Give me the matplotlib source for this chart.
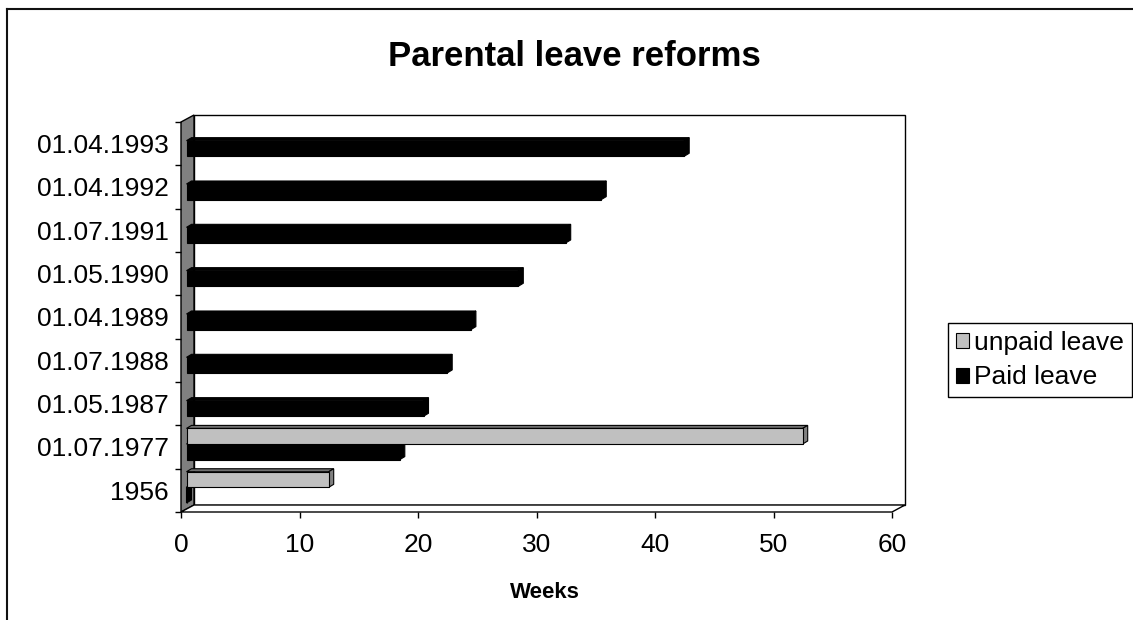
import matplotlib.pyplot as plt
import numpy as np
from matplotlib.patches import Polygon, Patch
from matplotlib.transforms import IdentityTransform
from matplotlib.lines import Line2D

plt.rcParams['font.family'] = ['Liberation Sans', 'DejaVu Sans']

# data, bottom category first
categories = ['1956', '01.07.1977', '01.05.1987', '01.07.1988', '01.04.1989',
              '01.05.1990', '01.07.1991', '01.04.1992', '01.04.1993']
paid_leave = [0, 18, 20, 22, 24, 28, 32, 35, 42]
unpaid_leave = [12, 52, None, None, None, None, None, None, None]
x_ticks = [0, 10, 20, 30, 40, 50, 60]

W, H = 1133, 620
fig = plt.figure(figsize=(W / 100, H / 100), dpi=100)
fig.patch.set_facecolor('white')
ax = fig.add_axes([181 / W, 108 / H, 711 / W, 390 / H])
ax.set_xlim(0, 60)
ax.set_ylim(-0.5, len(categories) - 0.5)
ax.patch.set_visible(False)
for s in ax.spines.values():
    s.set_visible(False)

# depth offsets in pixels
wall_d = (13, 7)
bar_off = (5.5, 3)
bar_d = (5, 3)


def px(x, y, dx=0, dy=0):
    X, Y = ax.transData.transform((x, y))
    return (X + dx, Y + dy)


def face(pts, fc, ec='black', lw=0.8, z=2):
    ax.add_patch(Polygon(pts, closed=True, transform=IdentityTransform(),
                         facecolor=fc, edgecolor=ec, linewidth=lw, zorder=z,
                         clip_on=False))


def shift(p, d):
    return (p[0] + d[0], p[1] + d[1])


ymin, ymax = ax.get_ylim()
xmax = ax.get_xlim()[1]

# back wall
face([px(0, ymin, *wall_d), px(xmax, ymin, *wall_d),
      px(xmax, ymax, *wall_d), px(0, ymax, *wall_d)], 'white', lw=1, z=1)
# left side wall
face([px(0, ymin), px(0, ymin, *wall_d), px(0, ymax, *wall_d), px(0, ymax)],
     '#808080', lw=1, z=1)
# floor
face([px(0, ymin), px(xmax, ymin), px(xmax, ymin, *wall_d), px(0, ymin, *wall_d)],
     'white', lw=1, z=1)


def bar3d(y0, h, v, front, top, side, z):
    a = px(0, y0, *bar_off)
    b = px(v, y0, *bar_off)
    c = px(v, y0 + h, *bar_off)
    d = px(0, y0 + h, *bar_off)
    face([d, c, shift(c, bar_d), shift(d, bar_d)], top, z=z)
    face([b, shift(b, bar_d), shift(c, bar_d), c], side, z=z)
    face([a, b, c, d], front, z=z)


bh = 0.36
for i in range(len(categories)):
    if paid_leave[i] is not None:
        bar3d(i - bh, bh, paid_leave[i], 'black', 'black', 'black', 2 + i * 0.01)
    if unpaid_leave[i] is not None:
        bar3d(i, bh, unpaid_leave[i], '#C0C0C0', '#707070', '#808080', 2.005 + i * 0.01)

# axes ticks
ax.set_yticks(range(len(categories)))
ax.set_yticklabels(categories, fontsize=19)
ax.set_yticks(np.arange(-0.5, len(categories), 1), minor=True)
ax.tick_params(axis='y', which='major', length=0, pad=8.6)
ax.tick_params(axis='y', which='minor', length=4.3, width=1, color='black')
ax.set_xticks(x_ticks)
ax.set_xticklabels([str(t) for t in x_ticks], fontsize=19)
ax.tick_params(axis='x', length=4.3, width=1, color='black', pad=11)

fig.text(574 / W, 1 - 57 / H, 'Parental leave reforms', fontsize=25,
         fontweight='bold', ha='center', va='center')
fig.text(545 / W, 1 - 593 / H, 'Weeks', fontsize=16, fontweight='bold',
         ha='center', va='center')

handles = [Patch(facecolor='#C0C0C0', edgecolor='black', linewidth=0.8),
           Patch(facecolor='black', edgecolor='black', linewidth=0.8)]
leg = fig.legend(handles, ['unpaid leave', 'Paid leave'], loc='upper left',
                 bbox_to_anchor=(948 / W, 1 - 323 / H), frameon=True,
                 fancybox=False, edgecolor='black', framealpha=1, fontsize=19,
                 handlelength=0.5, handleheight=0.5, handletextpad=0.2,
                 borderpad=0.3, labelspacing=0.4, borderaxespad=0)
leg.get_frame().set_linewidth(1)

# outer chart border
fig.add_artist(Line2D([7 / W, 7 / W], [0, 1 - 9 / H], transform=fig.transFigure,
                      color='#111111', linewidth=1.5))
fig.add_artist(Line2D([7 / W, 1], [1 - 9 / H, 1 - 9 / H], transform=fig.transFigure,
                      color='#111111', linewidth=1.5))

fig.savefig('out.png', dpi=100)
